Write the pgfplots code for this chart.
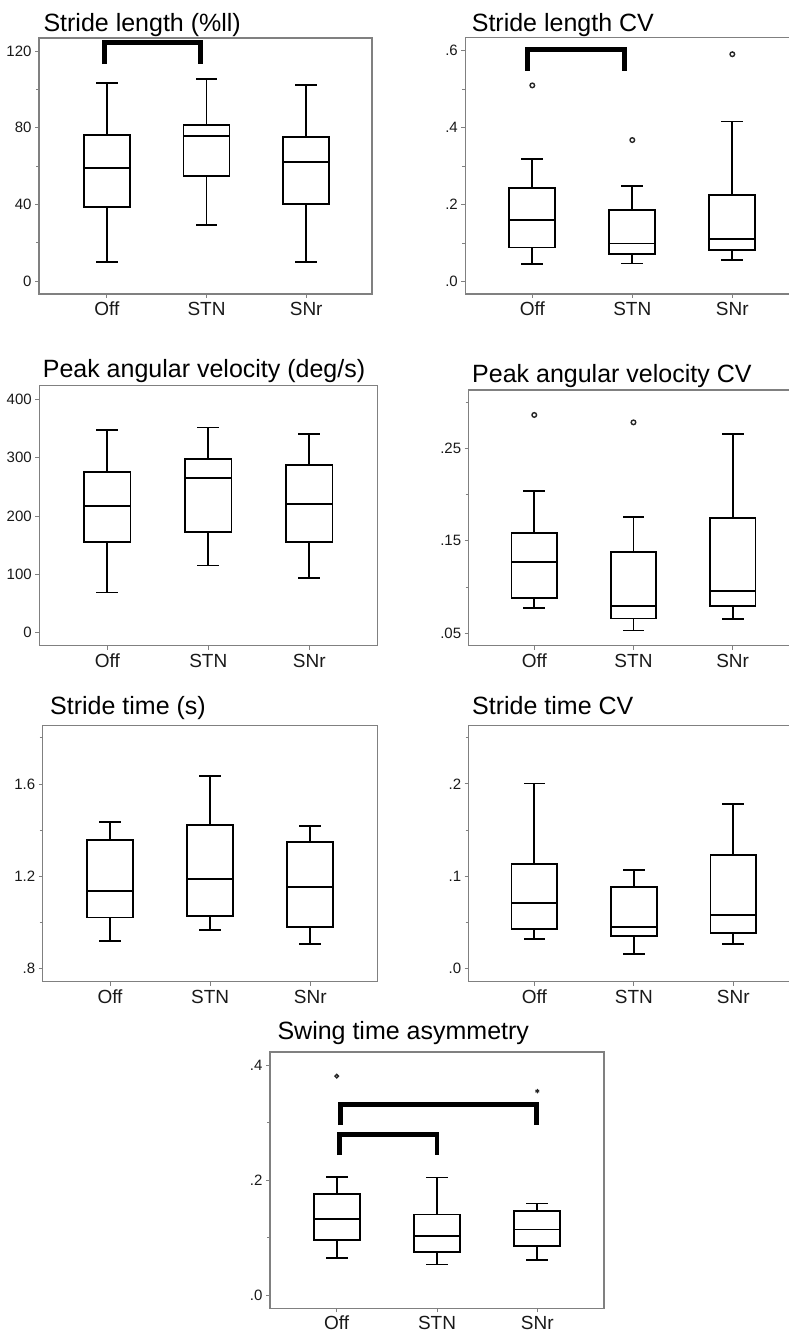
\documentclass[border=0pt]{standalone}
\usepackage{fontspec}
\setmainfont{Liberation Sans}
\usepackage{pgfplots}
\pgfplotsset{compat=1.18}
\definecolor{axgray}{RGB}{128,128,128}
\definecolor{txt}{RGB}{25,25,25}
\pgfplotsset{
  every axis title shift=0pt,
  panel/.style={
    scale only axis,
    axis line style={draw=axgray, line width=1.2pt},
    xtick={1,2,3}, xticklabels={Off,STN,SNr},
    xtick pos=bottom, ytick pos=left,
    tick align=outside,
    major tick length=4pt, minor tick length=3pt,
    every tick/.style={draw=axgray, line width=0.9pt},
    xticklabel style={font=\fontsize{19}{21}\selectfont, text=txt, text height=14pt, text depth=1pt},
    yticklabel style={font=\fontsize{15}{17}\selectfont, text=txt},
    title style={font=\fontsize{25}{28}\selectfont, text=black, anchor=base west, at={(rel axis cs:0,1)}},
    clip=false,
  },
  bp/.style={black, line width=1.8pt, line join=miter, line cap=rect},
  outl/.style={only marks, mark=o, mark size=2.3pt, draw=black!85, line width=1.4pt},
  brk/.style={black, line width=4.8pt, line join=miter, line cap=butt},
}
% box: position, lower whisker, lower quartile, median, upper quartile, upper whisker
\newcommand{\bx}[6]{%
  \pgfmathsetmacro\xl{#1-0.23}\pgfmathsetmacro\xr{#1+0.23}%
  \pgfmathsetmacro\wl{#1-0.1}\pgfmathsetmacro\wr{#1+0.1}%
  \addplot[bp] coordinates {(\xl,#3) (\xr,#3) (\xr,#5) (\xl,#5) (\xl,#3)};
  \addplot[bp] coordinates {(\xl,#4) (\xr,#4)};
  \addplot[bp, line cap=butt] coordinates {(#1,#5) (#1,#6)};
  \addplot[bp] coordinates {(\wl,#6) (\wr,#6)};
  \addplot[bp, line cap=butt] coordinates {(#1,#3) (#1,#2)};
  \addplot[bp] coordinates {(\wl,#2) (\wr,#2)};
}
\begin{document}
\begin{tikzpicture}
\useasboundingbox (0,0) rectangle (789pt,1332pt);

% Panel 1: Stride length
\begin{axis}[panel, at={(39pt,1038pt)}, anchor=south west, width=333pt, height=256pt,
  xmin=0.32, xmax=3.66, ymin=-6.8, ymax=126.8,
  ytick={0,40,80,120}, yticklabels={0,40,80,120}, minor ytick={20,60,100},
  title={Stride length (\%ll)}, title style={xshift=1pt, yshift=6.3pt}]
\bx{1}{9.7}{38.8}{58.8}{76}{103.1}
\bx{2}{29.2}{54.8}{75.6}{81.5}{105.2}
\bx{3}{9.7}{40.2}{62.2}{75.3}{102.2}
\addplot[brk] coordinates {(0.98,113.2) (0.98,124.3) (1.94,124.3) (1.94,113.2)};
\end{axis}

% Panel 2: Stride length CV
\begin{axis}[panel, at={(465.3pt,1038pt)}, anchor=south west, width=326.7pt, height=256.3pt,
  xmin=0.33, xmax=3.597, ymin=-0.032, ymax=0.634,
  ytick={0,0.2,0.4,0.6}, yticklabels={.0,.2,.4,.6}, minor ytick={0.1,0.3,0.5},
  title={Stride length CV}, title style={xshift=3pt, yshift=6pt}]
\bx{1}{0.045}{0.089}{0.160}{0.243}{0.319}
\bx{2}{0.047}{0.072}{0.099}{0.186}{0.249}
\bx{3}{0.057}{0.082}{0.110}{0.225}{0.416}
\addplot[outl] coordinates {(1,0.510) (2,0.368) (3,0.591)};
\addplot[brk] coordinates {(0.95,0.548) (0.95,0.603) (1.92,0.603) (1.92,0.548)};
\end{axis}

% Panel 3: Peak angular velocity
\begin{axis}[panel, at={(39.3pt,686.3pt)}, anchor=south west, width=338.4pt, height=260pt,
  xmin=0.327, xmax=3.677, ymin=-22.3, ymax=423.3,
  ytick={0,100,200,300,400}, yticklabels={0,100,200,300,400},
  title={Peak angular velocity (deg/s)}, title style={xshift=0pt, yshift=7.7pt}]
\bx{1}{69}{156}{217}{276}{347.5}
\bx{2}{115}{172.6}{264.7}{297.8}{351.5}
\bx{3}{93.8}{156}{221}{287.5}{340.6}
\end{axis}

% Panel 4: Peak angular velocity CV
\begin{axis}[panel, at={(468.7pt,686.3pt)}, anchor=south west, width=323.3pt, height=255.7pt,
  xmin=0.339, xmax=3.598, ymin=0.0366, ymax=0.313,
  ytick={0.05,0.15,0.25}, yticklabels={.05,.15,.25}, minor ytick={0.1,0.2,0.3},
  title={Peak angular velocity CV}, title style={xshift=0pt, yshift=7.3pt}]
\bx{1}{0.077}{0.0878}{0.127}{0.158}{0.2035}
\bx{2}{0.053}{0.066}{0.0798}{0.1376}{0.1757}
\bx{3}{0.0655}{0.0795}{0.096}{0.1743}{0.2655}
\addplot[outl] coordinates {(1,0.286) (2,0.278)};
\end{axis}

% Panel 5: Stride time
\begin{axis}[panel, at={(42.7pt,350.3pt)}, anchor=south west, width=335pt, height=256pt,
  xmin=0.328, xmax=3.673, ymin=0.742, ymax=1.853,
  ytick={0.8,1.2,1.6}, yticklabels={.8,1.2,1.6}, minor ytick={1.0,1.4,1.8},
  title={Stride time (s)}, title style={xshift=4pt, yshift=10.7pt}]
\bx{1}{0.918}{1.021}{1.137}{1.356}{1.434}
\bx{2}{0.966}{1.027}{1.189}{1.422}{1.635}
\bx{3}{0.907}{0.981}{1.152}{1.348}{1.418}
\end{axis}

% Panel 6: Stride time CV
\begin{axis}[panel, at={(468.7pt,350.3pt)}, anchor=south west, width=323.3pt, height=256pt,
  xmin=0.34, xmax=3.59, ymin=-0.0141, ymax=0.263,
  ytick={0,0.1,0.2}, yticklabels={.0,.1,.2}, minor ytick={0.05,0.15,0.25},
  title={Stride time CV}, title style={xshift=0pt, yshift=10.7pt}]
\bx{1}{0.0318}{0.043}{0.0712}{0.113}{0.2004}
\bx{2}{0.0159}{0.0357}{0.0452}{0.0881}{0.1072}
\bx{3}{0.0267}{0.0383}{0.0582}{0.123}{0.178}
\end{axis}

% Panel 7: Swing time asymmetry
\begin{axis}[panel, at={(270pt,23.7pt)}, anchor=south west, width=334pt, height=256.3pt,
  xmin=0.335, xmax=3.665, ymin=-0.0231, ymax=0.423,
  ytick={0,0.2,0.4}, yticklabels={.0,.2,.4}, minor ytick={0.1,0.3},
  title={Swing time asymmetry}, title style={xshift=4pt, yshift=12pt}]
\bx{1}{0.0649}{0.0957}{0.132}{0.1757}{0.2058}
\bx{2}{0.0533}{0.0754}{0.1032}{0.140}{0.2046}
\bx{3}{0.0609}{0.0858}{0.114}{0.146}{0.1594}
\addplot[outl, mark size=1.8pt] coordinates {(1,0.381)};
\addplot[only marks, mark=asterisk, mark size=2.2pt, draw=black!85, line width=1pt] coordinates {(3,0.355)};
\addplot[brk] coordinates {(1.04,0.2957) (1.04,0.332) (2.99,0.332) (2.99,0.2957)};
\addplot[brk] coordinates {(1.03,0.2435) (1.03,0.279) (2.0,0.279) (2.0,0.2435)};
\end{axis}
\end{tikzpicture}
\end{document}
